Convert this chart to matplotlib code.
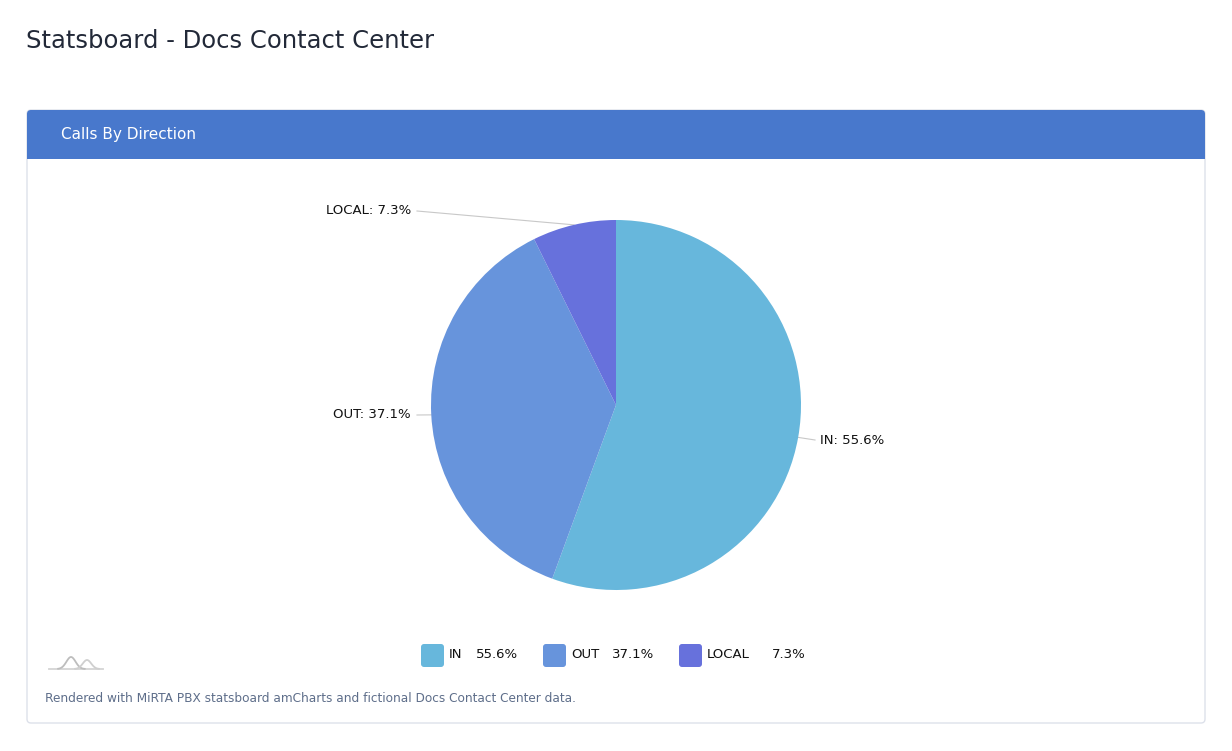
import matplotlib.pyplot as plt
import numpy as np
from matplotlib.patches import FancyBboxPatch, Rectangle

# chart data
categories = ["IN", "OUT", "LOCAL"]
shares = [55.6, 37.1, 7.3]
colors = ["#67B7DC", "#6794DC", "#6771DC"]

page_title = "Statsboard - Docs Contact Center"
card_title = "Calls By Direction"
footer = "Rendered with MiRTA PBX statsboard amCharts and fictional Docs Contact Center data."

W, H = 1232, 751
fig = plt.figure(figsize=(W / 100, H / 100), dpi=100)
ax = fig.add_axes([0, 0, 1, 1])


def py(y):
    # pixel y from top -> axis y from bottom
    return H - y


# soft card shadow
for k in range(1, 26):
    ax.add_patch(FancyBboxPatch((27 - k, py(723) - k - 5), 1178 + 2 * k, 613 + 2 * k,
                                boxstyle="round,pad=0,rounding_size=%d" % (4 + k),
                                fc="#1e2a40", ec="none", alpha=0.0011, zorder=0))
# card
ax.add_patch(FancyBboxPatch((27, py(723)), 1178, 613, boxstyle="round,pad=0,rounding_size=4",
                            fc="white", ec="#dde1ea", lw=1, zorder=1))
ax.add_patch(FancyBboxPatch((27, py(159)), 1178, 49, boxstyle="round,pad=0,rounding_size=4",
                            fc="#4878CC", ec="none", zorder=2))
ax.add_patch(Rectangle((27, py(159)), 1178, 10, fc="#4878CC", ec="none", zorder=2))

ax.text(26, py(41), page_title, fontsize=17.5, color="#222938", va="center", ha="left")
ax.text(61, py(134), card_title, fontsize=11, color="white", va="center", ha="left", zorder=3)

# pie
cx, cy, r = 616, py(405), 185
wedges, _ = ax.pie(shares, colors=colors, startangle=90, counterclock=False,
                   center=(cx, cy), radius=r, wedgeprops=dict(lw=0))
for w in wedges:
    w.set_zorder(3)

# outside labels with leader lines
label_pos = [(820, 440, "left"), (411, 415, "right"), (411, 211, "right")]
start = 90.0
for cat, val, (lx, ly, ha) in zip(categories, shares, label_pos):
    span = val / sum(shares) * 360
    mid = np.deg2rad(start - span / 2)
    start -= span
    ex, ey = cx + r * np.cos(mid), cy + r * np.sin(mid)
    tx = lx - 5 if ha == "left" else lx + 6
    ax.plot([ex, tx], [ey, py(ly)], color="#c8c8c8", lw=0.8, zorder=2)
    ax.text(lx, py(ly), f"{cat}: {val}%", fontsize=9.5, color="#111111",
            ha=ha, va="center", zorder=4)

# legend
leg_x = [421, 543, 679]
val_right = [518, 654, 806]
for cat, val, col, x0, vr in zip(categories, shares, colors, leg_x, val_right):
    ax.add_patch(FancyBboxPatch((x0, py(667)), 23, 23, boxstyle="round,pad=0,rounding_size=3",
                                fc=col, ec="none", zorder=3))
    ax.text(x0 + 28, py(655), cat, fontsize=9.5, color="#111111", va="center", ha="left")
    ax.text(vr, py(655), f"{val}%", fontsize=9.5, color="#111111", va="center", ha="right")

# small amCharts logo squiggle
t = np.linspace(49, 103, 160)
hump1 = 12 * np.exp(-((t - 71) / 6.5) ** 2)
hump2 = 9 * np.exp(-((t - 87) / 6.0) ** 2)
ax.plot([49, 103], [py(669), py(669)], color="#d4d4d4", lw=1.3, zorder=3)
m1 = (t > 58) & (t < 85)
m2 = (t > 75) & (t < 99)
ax.plot(t[m1], py(669) + hump1[m1], color="#bdbdbd", lw=1.3, zorder=3)
ax.plot(t[m2], py(669) + hump2[m2], color="#cfcfcf", lw=1.3, zorder=3)

ax.text(45, py(698), footer, fontsize=8.7, color="#5E6E8A", va="center", ha="left")

ax.set_xlim(0, W)
ax.set_ylim(0, H)
ax.set_aspect("auto")
ax.axis("off")
fig.savefig("out.png", dpi=100, facecolor="white")
